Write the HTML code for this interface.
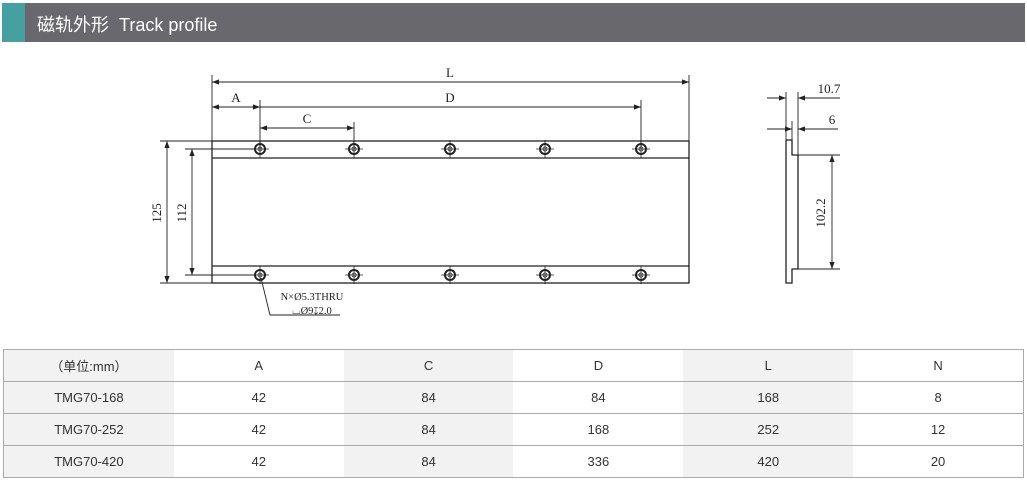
<!DOCTYPE html>
<html><head><meta charset="utf-8"><style>
body{margin:0;width:1027px;height:494px;background:#fff;position:relative;overflow:hidden;font-family:"Liberation Sans","Noto Sans CJK SC",sans-serif}
.hd{position:absolute;left:2px;top:3px;width:1023px;height:39px;background:#69696d}
.hd .t{position:absolute;left:0;top:0;width:23px;height:39px;background:#46a0a0}
.hd span{position:absolute;left:35px;top:8px;color:#fff;font-size:18px}
table{position:absolute;left:3px;top:349px;width:1021px;border-collapse:collapse;font-size:13px;color:#333}
td{height:31px;border-top:1px solid #aaa;border-bottom:1px solid #aaa;text-align:center;padding:0;width:170px}
td:nth-child(odd){background:#f2f2f2}
table{border-left:1px solid #aaa;border-right:1px solid #aaa}
</style></head><body>
<div class="hd"><div class="t"></div><span>磁轨外形&nbsp; Track profile</span></div>
<svg width="1027" height="494" style="position:absolute;left:0;top:0" font-family="Liberation Serif,serif" font-size="13">
<defs><marker id="a" markerWidth="8" markerHeight="6" refX="8" refY="3" orient="auto-start-reverse"><path d="M0,0L8,3L0,6z" fill="#222"/></marker>
<g id="h"><circle r="5" stroke-width="2"/><circle r="2" stroke-width="0.8"/><line x1="-9" x2="9" stroke-width="0.8"/><line y1="-9" y2="9" stroke-width="0.8"/></g>
</defs>
<g stroke="#222" fill="none" stroke-width="1.3">
<rect x="212" y="141" width="477" height="142"/>
<line x1="212" y1="158" x2="689" y2="158"/><line x1="212" y1="266" x2="689" y2="266"/>
</g>
<g stroke="#222" stroke-width="0.9" fill="none">
<line x1="212" y1="75" x2="212" y2="141"/><line x1="689" y1="75" x2="689" y2="141"/>
<line x1="212" y1="82" x2="689" y2="82" marker-start="url(#a)" marker-end="url(#a)"/>
<line x1="260" y1="100" x2="260" y2="149"/><line x1="641" y1="100" x2="641" y2="149"/><line x1="354" y1="122" x2="354" y2="149"/>
<line x1="212" y1="107" x2="260" y2="107" marker-start="url(#a)" marker-end="url(#a)"/>
<line x1="260" y1="107" x2="641" y2="107" marker-end="url(#a)"/>
<line x1="260" y1="128" x2="354" y2="128" marker-start="url(#a)" marker-end="url(#a)"/>
<line x1="160" y1="141" x2="212" y2="141"/><line x1="160" y1="283" x2="212" y2="283"/>
<line x1="167" y1="141" x2="167" y2="283" marker-start="url(#a)" marker-end="url(#a)"/>
<line x1="185" y1="149" x2="255" y2="149"/><line x1="185" y1="275" x2="255" y2="275"/>
<line x1="192" y1="149" x2="192" y2="275" marker-start="url(#a)" marker-end="url(#a)"/>
<polyline points="261,278 270,315 340,315"/>
</g>
<g stroke="#222" fill="none">
<use href="#h" x="260" y="149"/><use href="#h" x="354" y="149"/><use href="#h" x="450" y="149"/><use href="#h" x="545" y="149"/><use href="#h" x="641" y="149"/>
<use href="#h" x="260" y="275"/><use href="#h" x="354" y="275"/><use href="#h" x="450" y="275"/><use href="#h" x="545" y="275"/><use href="#h" x="641" y="275"/>
</g>
<g fill="#222" text-anchor="middle">
<text x="450" y="77">L</text><text x="236" y="102">A</text><text x="450" y="102">D</text><text x="307" y="123">C</text>
<text transform="translate(161,213) rotate(-90)">125</text>
<text transform="translate(186,213) rotate(-90)">112</text>
<text x="312" y="300" font-size="10.5">N×Ø5.3THRU</text>
<text x="312" y="314" font-size="10.5">⌴Ø9↧2.0</text>
<text x="829" y="93">10.7</text><text x="832" y="124">6</text>
<text transform="translate(825,213) rotate(-90)">102.2</text>
</g>
<g stroke="#222" fill="none" stroke-width="1.3">
<polyline points="786,140 792,140 792,155 798,155 798,269 792,269 792,283 786,283 786,140"/>
</g>
<g stroke="#222" fill="none" stroke-width="0.9">
<line x1="786" y1="92" x2="786" y2="140"/><line x1="798" y1="92" x2="798" y2="155"/><line x1="792" y1="121" x2="792" y2="140"/>
<line x1="767" y1="98" x2="786" y2="98" marker-end="url(#a)"/><line x1="840" y1="98" x2="798" y2="98" marker-end="url(#a)"/>
<line x1="767" y1="129" x2="792" y2="129" marker-end="url(#a)"/><line x1="838" y1="129" x2="798" y2="129" marker-end="url(#a)"/>
<line x1="798" y1="155" x2="840" y2="155"/><line x1="798" y1="269" x2="840" y2="269"/>
<line x1="832" y1="155" x2="832" y2="269" marker-start="url(#a)" marker-end="url(#a)"/>
</g>
</svg>
<table>
<tr><td>（单位:mm）</td><td>A</td><td>C</td><td>D</td><td>L</td><td>N</td></tr>
<tr><td>TMG70-168</td><td>42</td><td>84</td><td>84</td><td>168</td><td>8</td></tr>
<tr><td>TMG70-252</td><td>42</td><td>84</td><td>168</td><td>252</td><td>12</td></tr>
<tr><td>TMG70-420</td><td>42</td><td>84</td><td>336</td><td>420</td><td>20</td></tr>
</table>
</body></html>
